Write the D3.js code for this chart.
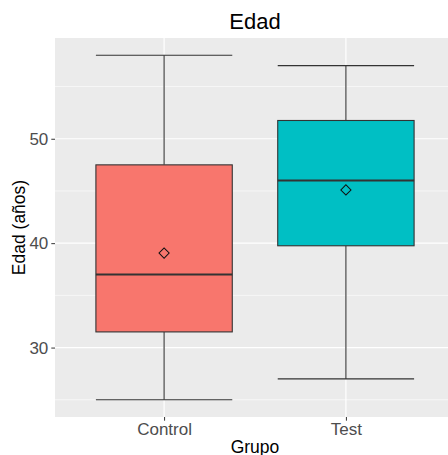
<!DOCTYPE html>
<html>
<head>
<meta charset="utf-8">
<script src="https://cdn.jsdelivr.net/npm/d3@7"></script>
<style>
  body { margin: 0; background: #fff; }
  text { font-family: "Liberation Sans", Arial, sans-serif; }
</style>
</head>
<body>
<div id="chart"></div>
<script>
// data
const grupos = ["Control", "Test"];
const minimos = [25, 27];
const q1 = [31.5, 39.75];
const medianas = [37, 46];
const q3 = [47.5, 51.75];
const maximos = [58, 57];
const medias = [39.05, 45.1];
const colores = ["#F8766D", "#00BFC4"];
const yTicks = [30, 40, 50];
const yMinor = [25, 35, 45, 55];

const width = 448,
      height = 455,
      margin = ({ top: 38, right: -7, bottom: 38, left: 55 });

let svg = d3.select("#chart")
    .append("svg")
    .attr("width", width)
    .attr("height", height);

// ggplot style expansion: 5% on continuous, 0.6 on discrete
const lo = d3.min(minimos), hi = d3.max(maximos);
const pad = (hi - lo) * 0.05;

let y = d3.scaleLinear()
    .domain([lo - pad, hi + pad])
    .range([height - margin.bottom, margin.top]);

let x = d3.scaleLinear()
    .domain([0.4, grupos.length + 0.6])
    .range([margin.left, width - margin.right]);

const px = i => x(i + 1);
const boxW = x(0.75) - x(0);

// panel
svg.append("rect")
    .attr("x", margin.left)
    .attr("y", margin.top)
    .attr("width", width - margin.right - margin.left)
    .attr("height", height - margin.bottom - margin.top)
    .attr("fill", "#EBEBEB");

// grid
svg.selectAll(".minor")
    .data(yMinor)
    .join("line")
    .attr("x1", margin.left).attr("x2", width - margin.right)
    .attr("y1", d => y(d)).attr("y2", d => y(d))
    .attr("stroke", "#fff").attr("stroke-width", 0.6);

svg.selectAll(".major")
    .data(yTicks)
    .join("line")
    .attr("x1", margin.left).attr("x2", width - margin.right)
    .attr("y1", d => y(d)).attr("y2", d => y(d))
    .attr("stroke", "#fff").attr("stroke-width", 1.2);

svg.selectAll(".vmajor")
    .data(grupos)
    .join("line")
    .attr("x1", (d, i) => px(i)).attr("x2", (d, i) => px(i))
    .attr("y1", margin.top).attr("y2", height - margin.bottom)
    .attr("stroke", "#fff").attr("stroke-width", 1.2);

// boxes
let box = svg.selectAll(".box")
    .data(grupos)
    .join("g")
    .attr("class", "box");

// whiskers (errorbar)
box.append("line")
    .attr("x1", (d, i) => px(i)).attr("x2", (d, i) => px(i))
    .attr("y1", (d, i) => y(maximos[i])).attr("y2", (d, i) => y(q3[i]))
    .attr("stroke", "#333").attr("stroke-width", 1.1);
box.append("line")
    .attr("x1", (d, i) => px(i)).attr("x2", (d, i) => px(i))
    .attr("y1", (d, i) => y(minimos[i])).attr("y2", (d, i) => y(q1[i]))
    .attr("stroke", "#333").attr("stroke-width", 1.1);
box.append("line")
    .attr("x1", (d, i) => px(i) - boxW / 2).attr("x2", (d, i) => px(i) + boxW / 2)
    .attr("y1", (d, i) => y(maximos[i])).attr("y2", (d, i) => y(maximos[i]))
    .attr("stroke", "#333").attr("stroke-width", 1.1);
box.append("line")
    .attr("x1", (d, i) => px(i) - boxW / 2).attr("x2", (d, i) => px(i) + boxW / 2)
    .attr("y1", (d, i) => y(minimos[i])).attr("y2", (d, i) => y(minimos[i]))
    .attr("stroke", "#333").attr("stroke-width", 1.1);

box.append("rect")
    .attr("x", (d, i) => px(i) - boxW / 2)
    .attr("width", boxW)
    .attr("y", (d, i) => y(q3[i]))
    .attr("height", (d, i) => y(q1[i]) - y(q3[i]))
    .attr("fill", (d, i) => colores[i])
    .attr("stroke", "#333").attr("stroke-width", 1.1);

box.append("line")
    .attr("x1", (d, i) => px(i) - boxW / 2).attr("x2", (d, i) => px(i) + boxW / 2)
    .attr("y1", (d, i) => y(medianas[i])).attr("y2", (d, i) => y(medianas[i]))
    .attr("stroke", "#333").attr("stroke-width", 2.2);

// mean diamond
box.append("path")
    .attr("d", d3.symbol(d3.symbolSquare, 52))
    .attr("transform", (d, i) => `translate(${px(i)},${y(medias[i])}) rotate(45)`)
    .attr("fill", "none")
    .attr("stroke", "#111").attr("stroke-width", 1);

// y axis
let yAxis = svg.append("g")
    .attr("transform", `translate(${margin.left},0)`)
    .call(d3.axisLeft(y).tickValues(yTicks).tickSize(3.7).tickPadding(3));
yAxis.select(".domain").remove();
yAxis.selectAll("line").attr("stroke", "#333");
yAxis.selectAll("text").attr("fill", "#4D4D4D").style("font-size", "17px").attr("font-family", null);

// x axis
let xAxis = svg.append("g")
    .attr("transform", `translate(0,${height - margin.bottom})`)
    .call(d3.axisBottom(x).tickValues([1, 2]).tickFormat(d => grupos[d - 1]).tickSize(3.7).tickPadding(2));
xAxis.select(".domain").remove();
xAxis.selectAll("line").attr("stroke", "#333");
xAxis.selectAll("text").attr("fill", "#4D4D4D").style("font-size", "17px").attr("font-family", null);

// titles
const midX = (margin.left + width - margin.right) / 2;
svg.append("text")
    .attr("x", midX).attr("y", 29)
    .attr("text-anchor", "middle")
    .style("font-size", "22px")
    .text("Edad");

svg.append("text")
    .attr("x", midX).attr("y", 452.7)
    .attr("text-anchor", "middle")
    .style("font-size", "17.5px")
    .text("Grupo");

svg.append("text")
    .attr("transform", `translate(24.5,${(margin.top + height - margin.bottom) / 2}) rotate(-90)`)
    .attr("text-anchor", "middle")
    .style("font-size", "17.5px")
    .text("Edad (años)");
</script>
</body>
</html>
